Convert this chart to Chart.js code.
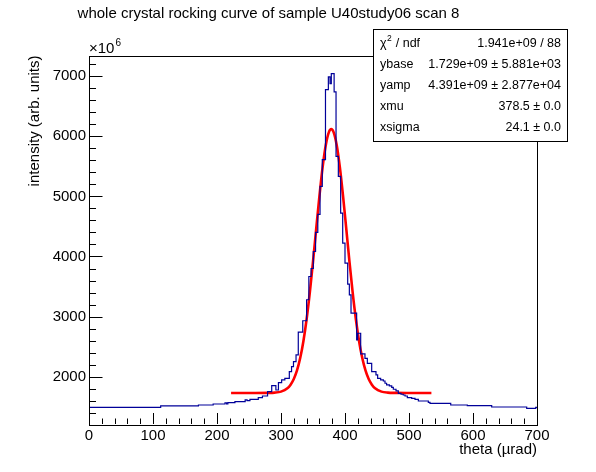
<!DOCTYPE html>
<html>
<head>
<meta charset="utf-8">
<script src="https://cdn.jsdelivr.net/npm/chart.js@4"></script>
<style>
  html, body { margin: 0; padding: 0; background: #fff; }
  canvas { display: block; }
</style>
</head>
<body>
<canvas id="rockingChart" width="596" height="472"></canvas>
<script>
// histogram steps (left bin edge -> content, units of 1e6), last bin ends at 700
const histEdges = [
  0, 112, 171, 194, 212.5, 215, 217, 228, 244, 247, 251.5, 264.5, 271, 279,
  285.5, 292, 296, 301, 306, 313, 316.5, 319.5, 323.5, 327, 334, 340, 343.5,
  347, 350.5, 354, 357.5, 361, 364.5, 369.5, 374, 376.6, 378.6, 383, 386,
  389.6, 393.2, 396.4, 400, 404.2, 406.8, 409.4, 418.2, 419.8, 424.5, 431.2,
  434.9, 441.7, 448.4, 451, 455.7, 459.9, 462.5, 465, 469.3, 473, 475.5,
  479.7, 483.3, 487.5, 491, 493.8, 497.4, 504.2, 509.4, 514.6, 530.2, 532.8,
  565.2, 591.1, 629.2, 683.9, 698
];
const histCounts = [
  1490, 1512, 1528, 1545, 1562, 1545, 1567, 1583, 1612, 1600, 1623, 1650, 1678, 1750,
  1850, 1778, 1900, 1945, 1972, 2083, 2167, 2250, 2362, 2740, 2930, 3280, 3667,
  3800, 4083, 4400, 4700, 5167, 5612, 6778, 6990, 6878, 7045, 6740, 5667,
  5333, 4722, 4222, 3890, 3540, 3362, 3056, 2612, 2722, 2378, 2305,
  2222, 2083, 2028, 1972, 1945, 1928, 1890, 1862, 1845, 1822, 1790,
  1762, 1723, 1707, 1695, 1678, 1650, 1640, 1623, 1595, 1573, 1556,
  1528, 1517, 1495, 1473, 1490
];
const histEnd = 700;

// red fit curve
const fitX = [222, 260, 280, 290, 300, 310, 315, 320, 325, 330, 335, 340, 345, 350, 355, 360, 365, 370, 375,
  378.5, 382, 387, 392, 397, 402, 407, 412, 417, 422, 427, 432, 437, 442, 447, 457, 467, 477, 497, 535];
const fitY = [1729, 1729, 1730, 1734, 1751, 1806, 1866, 1960, 2103, 2309, 2590, 2955, 3400, 3911, 4459, 4999, 5482, 5855, 6074,
  6120, 6074, 5855, 5482, 4999, 4459, 3911, 3400, 2955, 2590, 2309, 2103, 1960, 1866, 1806, 1751, 1734, 1730, 1729, 1729];

const xTicks = [0, 100, 200, 300, 400, 500, 600, 700];
const yTicks = [2000, 3000, 4000, 5000, 6000, 7000];

const statNames = ['ybase', 'yamp', 'xmu', 'xsigma'];
const statValues = ['1.729e+09 \u00b1 5.881e+03', '4.391e+09 \u00b1 2.877e+04', '378.5 \u00b1 0.0', '24.1 \u00b1 0.0'];
const chi2Text = '1.941e+09 / 88';

const FONT = 'Liberation Sans, Arial, Helvetica, sans-serif';

// ROOT style frame: box, inward ticks, exponent label, stats box
const rootFrame = {
  id: 'rootFrame',
  afterDatasetsDraw(chart) {
    const { ctx, chartArea: a, scales: { x, y } } = chart;
    ctx.save();
    ctx.strokeStyle = '#000';
    ctx.lineWidth = 1;
    ctx.strokeRect(Math.round(a.left) + 0.5, Math.round(a.top) + 0.5,
      Math.round(a.right - a.left), Math.round(a.bottom - a.top));

    ctx.beginPath();
    for (let v = 0; v <= 700; v += 20) {
      const px = Math.round(x.getPixelForValue(v)) + 0.5;
      const len = v % 100 === 0 ? 11 : 5.5;
      ctx.moveTo(px, a.bottom);
      ctx.lineTo(px, a.bottom - len);
    }
    for (let v = 1400; v <= 7200; v += 200) {
      const py = Math.round(y.getPixelForValue(v)) + 0.5;
      const len = v % 1000 === 0 ? 13.5 : 7;
      ctx.moveTo(a.left, py);
      ctx.lineTo(a.left + len, py);
    }
    ctx.stroke();

    // x10^6
    ctx.fillStyle = '#000';
    ctx.textBaseline = 'alphabetic';
    ctx.textAlign = 'left';
    ctx.font = '15px ' + FONT;
    ctx.fillText('\u00d710', a.left, a.top - 3);
    const w = ctx.measureText('\u00d710').width;
    ctx.font = '10px ' + FONT;
    ctx.fillText('6', a.left + w + 1, a.top - 10);
    ctx.restore();
  },
  afterDraw(chart) {
    const { ctx } = chart;
    const bx = 373, by = 29, bw = 194, bh = 112;
    ctx.save();
    ctx.fillStyle = '#fff';
    ctx.fillRect(bx, by, bw, bh);
    ctx.strokeStyle = '#000';
    ctx.lineWidth = 1;
    ctx.strokeRect(bx + 0.5, by + 0.5, bw, bh);

    const rows = [44, 65, 86, 107, 128];
    ctx.fillStyle = '#000';
    ctx.textBaseline = 'middle';
    ctx.font = '12.5px ' + FONT;

    // chi2 row
    ctx.textAlign = 'left';
    ctx.fillText('\u03c7', bx + 7, rows[0]);
    let cw = ctx.measureText('\u03c7').width;
    ctx.font = '8.5px ' + FONT;
    ctx.fillText('2', bx + 7 + cw + 0.5, rows[0] - 5);
    const sw = ctx.measureText('2').width;
    ctx.font = '12.5px ' + FONT;
    ctx.fillText(' / ndf', bx + 7 + cw + sw + 1, rows[0]);
    ctx.textAlign = 'right';
    ctx.fillText(chi2Text, bx + bw - 6, rows[0]);

    statNames.forEach((name, i) => {
      ctx.textAlign = 'left';
      ctx.fillText(name, bx + 7, rows[i + 1]);
      ctx.textAlign = 'right';
      ctx.fillText(statValues[i], bx + bw - 6, rows[i + 1]);
    });
    ctx.restore();
  }
};

const histPoints = histEdges.map((x, i) => ({ x, y: histCounts[i] }));
histPoints.push({ x: histEnd, y: histCounts[histCounts.length - 1] });
const fitPoints = fitX.map((x, i) => ({ x, y: fitY[i] }));

const tickFont = { family: FONT, size: 15 };

new Chart(document.getElementById('rockingChart'), {
  type: 'line',
  data: {
    datasets: [
      {
        data: histPoints,
        stepped: 'before',
        borderColor: '#000099',
        borderWidth: 1.2,
        pointRadius: 0,
        fill: false
      },
      {
        data: fitPoints,
        borderColor: '#ff0000',
        borderWidth: 2.6,
        pointRadius: 0,
        fill: false,
        cubicInterpolationMode: 'monotone'
      }
    ]
  },
  options: {
    responsive: false,
    animation: false,
    layout: { padding: { left: 0, right: 59, top: 0, bottom: 0 } },
    plugins: {
      legend: { display: false },
      tooltip: { enabled: false },
      title: {
        display: true,
        text: 'whole crystal rocking curve of sample U40study06 scan 8',
        color: '#000',
        font: { family: FONT, size: 15, weight: 'normal' },
        padding: { top: 4.5, bottom: 33 }
      }
    },
    scales: {
      x: {
        type: 'linear',
        min: 0,
        max: 700,
        grid: { display: false, drawTicks: false },
        border: { display: false },
        ticks: { color: '#000', font: tickFont, padding: 3, maxRotation: 0, callback: v => String(v) },
        afterBuildTicks: s => { s.ticks = xTicks.map(v => ({ value: v })); },
        afterFit: s => { s.height = 48; },
        title: {
          display: true,
          text: 'theta (\u00b5rad)',
          align: 'end',
          color: '#000',
          font: { family: FONT, size: 15 },
          padding: { top: 0, bottom: 13 }
        }
      },
      y: {
        type: 'linear',
        min: 1212,
        max: 7345,
        grid: { display: false, drawTicks: false },
        border: { display: false },
        ticks: { color: '#000', font: tickFont, padding: 3, callback: v => String(v) },
        afterBuildTicks: s => { s.ticks = yTicks.map(v => ({ value: v })); },
        afterFit: s => { s.width = 89; },
        title: {
          display: true,
          text: 'intensity (arb. units)',
          align: 'end',
          color: '#000',
          font: { family: FONT, size: 15 },
          padding: { top: 26, bottom: 0 }
        }
      }
    }
  },
  plugins: [rootFrame]
});
</script>
</body>
</html>
